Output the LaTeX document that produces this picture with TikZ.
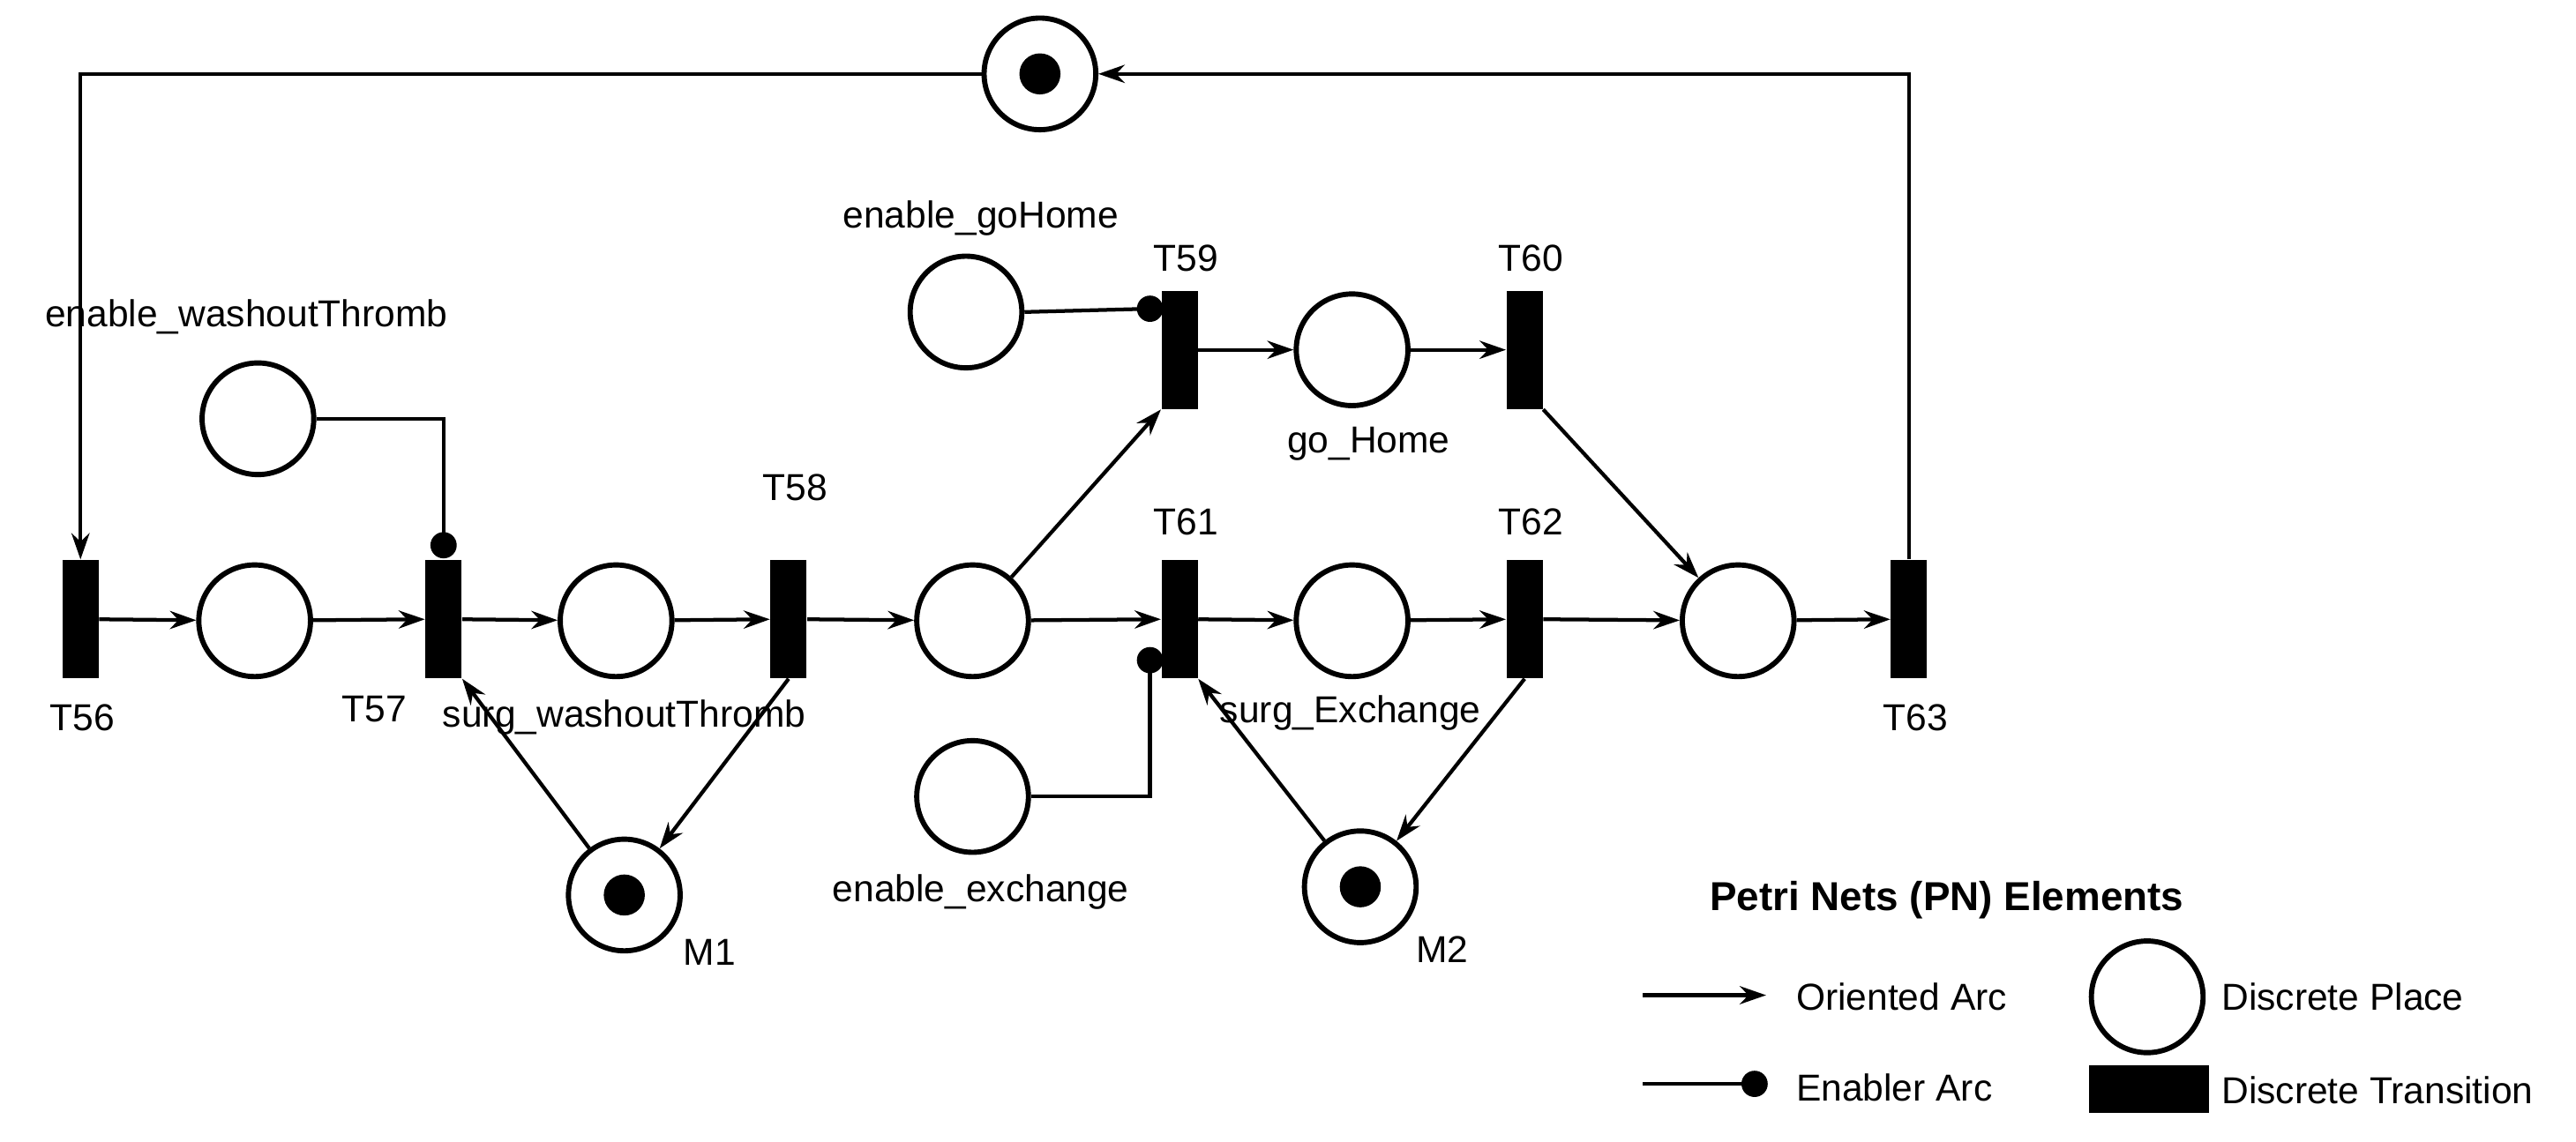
\documentclass[tikz,border=0pt]{standalone}
\usepackage{fontspec}
\setmainfont{Liberation Sans}
\usetikzlibrary{arrows.meta}
\begin{document}
\begin{tikzpicture}[x=0.02cm,y=-0.02cm,
  every node/.style={font=\fontsize{13}{15}\selectfont},
  pl/.style={circle,draw,line width=1.8pt,minimum size=1.36cm,inner sep=0},
  tr/.style={rectangle,fill=black,minimum width=0.44cm,minimum height=1.44cm,inner sep=0},
  arc/.style={line width=1.3pt,-{Stealth[length=0.32cm,width=0.22cm]}},
  en/.style={line width=1.3pt},
  dot/.style={circle,fill=black,minimum size=0.32cm,inner sep=0},
  tok/.style={circle,fill=black,minimum size=0.5cm,inner sep=0},
  lbl/.style={inner sep=0}]
\useasboundingbox (0,0) rectangle (1568,695);
% places
\node[pl] (top) at (633,45) {}; \node[tok] at (top) {};
\node[pl] (p1) at (155,378) {};
\node[pl] (p2) at (375,378) {};
\node[pl] (p3) at (592,378) {};
\node[pl] (p4) at (823,378) {};
\node[pl] (p5) at (1058,378) {};
\node[pl] (gh) at (823,213) {};
\node[pl] (egh) at (588,190) {};
\node[pl] (ew) at (157,255) {};
\node[pl] (eex) at (592,485) {};
\node[pl] (m1) at (380,545) {}; \node[tok] at (m1) {};
\node[pl] (m2) at (828,540) {}; \node[tok] at (m2) {};
% transitions
\node[tr] (t56) at (49,377) {};
\node[tr] (t57) at (270,377) {};
\node[tr] (t58) at (480,377) {};
\node[tr] (t59) at (718,213) {};
\node[tr] (t60) at (928,213) {};
\node[tr] (t61) at (718,377) {};
\node[tr] (t62) at (928,377) {};
\node[tr] (t63) at (1162,377) {};
% labels
\node[lbl] at (50,437) {T56};
\node[lbl] at (228,432) {T57};
\node[lbl] at (380,437) {surg\_washoutThromb};
\node[lbl] at (484,297) {T58};
\node[lbl] at (722,157) {T59};
\node[lbl] at (932,157) {T60};
\node[lbl] at (722,318) {T61};
\node[lbl] at (932,318) {T62};
\node[lbl] at (1166,437) {T63};
\node[lbl] at (597,133) {enable\_goHome};
\node[lbl] at (150,193) {enable\_washoutThromb};
\node[lbl] at (833,270) {go\_Home};
\node[lbl] at (597,543) {enable\_exchange};
\node[lbl] at (822,434) {surg\_Exchange};
\node[lbl] at (432,580) {M1};
\node[lbl] at (878,578) {M2};
% arcs
\draw[arc] (top.west) -| (t56.north);
\draw[arc] (t63.north) |- (top.east);
\draw[arc] (t56) -- (p1);
\draw[arc] (p1) -- (t57);
\draw[arc] (t57) -- (p2);
\draw[arc] (p2) -- (t58);
\draw[arc] (t58) -- (p3);
\draw[arc] (p3) -- (t61);
\draw[arc] (t61) -- (p4);
\draw[arc] (p4) -- (t62);
\draw[arc] (t62) -- (p5);
\draw[arc] (p5) -- (t63);
\draw[arc] (p3) -- (t59.south west);
\draw[arc] (t59) -- (gh);
\draw[arc] (gh) -- (t60);
\draw[arc] (t60.south east) -- (p5);
\draw[arc] (m1) -- (t57.south east);
\draw[arc] (t58.south) -- (m1);
\draw[arc] (m2) -- (t61.south east);
\draw[arc] (t62.south) -- (m2);
% enabler arcs
\coordinate (d57) at (270,332);
\coordinate (d59) at (700,188);
\coordinate (d61) at (700,402);
\draw[en] (ew.east) -| (d57); \node[dot] at (d57) {};
\draw[en] (egh.east) -- (d59); \node[dot] at (d59) {};
\draw[en] (eex.east) -| (d61); \node[dot] at (d61) {};
% legend
\node[lbl,font=\fontsize{14}{16}\selectfont\bfseries] at (1185,548) {Petri Nets (PN) Elements};
\coordinate (la1) at (1000,606); \coordinate (la2) at (1075,606);
\draw[arc] (la1) -- (la2);
\node[lbl,anchor=west] at (1093,607) {Oriented Arc};
\coordinate (le1) at (1000,660); \coordinate (le2) at (1068,660);
\draw[en] (le1) -- (le2); \node[dot] at (le2) {};
\node[lbl,anchor=west] at (1093,662) {Enabler Arc};
\node[pl] (lp) at (1307,607) {};
\node[lbl,anchor=west] at (1352,607) {Discrete Place};
\node[rectangle,fill=black,minimum width=1.46cm,minimum height=0.58cm,inner sep=0] (lt) at (1308,663) {};
\node[lbl,anchor=west] at (1352,664) {Discrete Transition};
\end{tikzpicture}
\end{document}
